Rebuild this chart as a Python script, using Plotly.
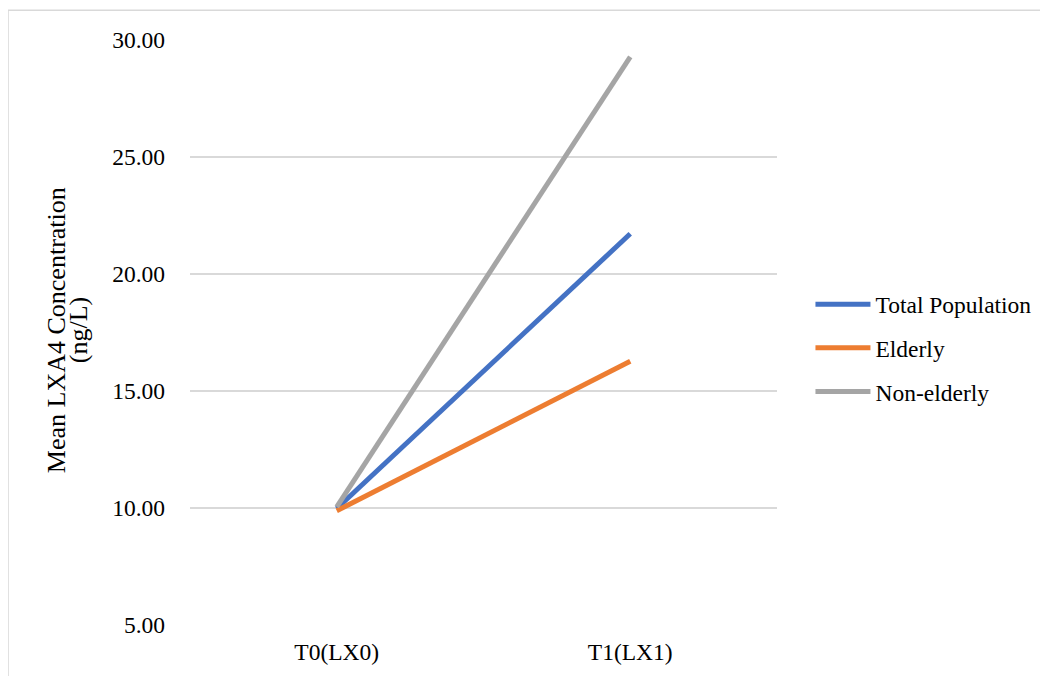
import plotly.graph_objects as go

categories = ["T0(LX0)", "T1(LX1)"]
total_population = [9.98, 21.72]
elderly = [9.88, 16.27]
non_elderly = [10.05, 29.28]
series_names = ["Total Population", "Elderly", "Non-elderly"]
colors = ["#4472C4", "#ED7D31", "#A5A5A5"]
y_ticks = [5, 10, 15, 20, 25, 30]
y_title_lines = ["Mean LXA4 Concentration", "(ng/L)"]

fig = go.Figure()
for name, vals, c in zip(series_names, [total_population, elderly, non_elderly], colors):
    fig.add_trace(go.Scatter(x=categories, y=vals, mode="lines", name=name, legendgroup=name,
                             line=dict(color=c, width=5)))

fam = "Liberation Serif, Times New Roman, serif"
font = dict(family=fam, size=23.5, color="#000000")
title_font = dict(family=fam, size=26, color="#000000")
fig.update_layout(
    width=1040, height=668,
    margin=dict(l=182, r=271, t=32, b=51),
    paper_bgcolor="white", plot_bgcolor="white",
    font=font,
    showlegend=True,
    legend=dict(x=1.057, y=0.4735, xanchor="left", yanchor="middle", font=font,
                itemwidth=55, tracegroupgap=10, bgcolor="rgba(0,0,0,0)", borderwidth=0),
    xaxis=dict(type="category", range=[-0.5, 1.5], showgrid=False, showline=False,
               ticks="", tickfont=font, zeroline=False, ticklabelstandoff=10),
    yaxis=dict(range=[5, 30], tickvals=y_ticks, tickformat=".2f", showgrid=True,
               gridcolor="#D9D9D9", gridwidth=1.5, zeroline=False, showline=False,
               ticks="", tickfont=font, ticklabelstandoff=24),
    annotations=[
        dict(text=y_title_lines[0], xref="paper", yref="paper", x=-0.2283, y=0.504,
             textangle=-90, showarrow=False, font=title_font, xanchor="center", yanchor="middle"),
        dict(text=y_title_lines[1], xref="paper", yref="paper", x=-0.1908, y=0.504,
             textangle=-90, showarrow=False, font=title_font, xanchor="center", yanchor="middle"),
    ],
    shapes=[dict(type="rect", xref="paper", yref="paper", x0=-0.31, x1=1.458,
                 y0=-0.3, y1=1.051, line=dict(color="#D9D9D9", width=1.5), layer="below")],
)
fig.write_html("out.html")
